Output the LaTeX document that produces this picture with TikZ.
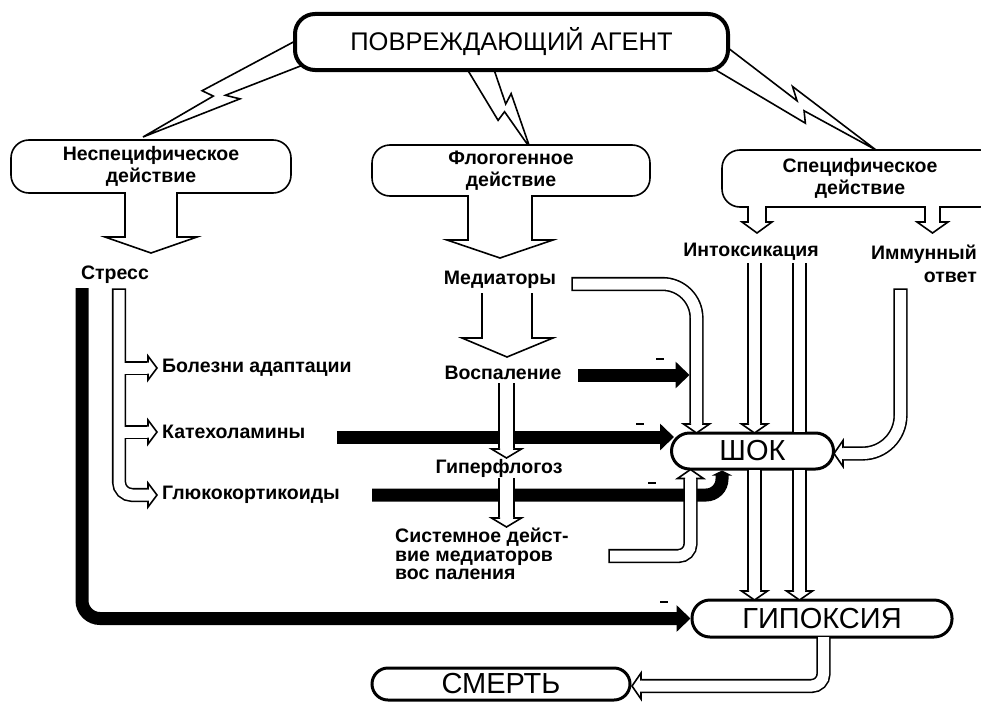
\documentclass[tikz,border=0pt]{standalone}
\usepackage{fontspec}
\setmainfont{Liberation Sans}
\usetikzlibrary{calc,arrows.meta}

\tikzset{
 lbl/.style={font=\fontsize{19.5}{22}\selectfont\bfseries, align=center, inner sep=0pt},
 thinbox/.style={draw, line width=1.6pt, rounded corners=18pt, fill=white, inner sep=0pt, align=center, font=\fontsize{19.5}{22}\selectfont\bfseries},
 fatbox/.style={draw, line width=3pt, rounded corners=18pt, fill=white, inner sep=0pt, font=\fontsize{29}{32}\selectfont},
 blockarr/.style={fill=white, draw, line width=1.6pt, line join=miter},
 chanblack/.style={line width=14.2pt},
 chanwhite/.style={white, line width=11pt},
 widechanblack/.style={line width=16.2pt},
 widechanwhite/.style={white, line width=13pt},
 blackbar/.style={line width=13pt, -{Triangle[length=14pt,width=26pt]}},
 boltshape/.style={fill=white, draw, line width=1.6pt, line join=miter},
 minussign/.style={fill=black, inner sep=0pt, minimum width=8pt, minimum height=2.6pt},
}

\newcommand\mybolt[2]{%
 \path[boltshape] ($(#1)!13pt!90:(#2)$) -- ($(#1)!0.5!(#2)!2pt!90:(#2)$) -- ($(#1)!0.44!(#2)!12pt!90:(#2)$) -- (#2) -- ($(#1)!0.56!(#2)!-3pt!90:(#2)$) -- ($(#1)!0.6!(#2)!-13pt!90:(#2)$) -- ($(#1)!-13pt!90:(#2)$) -- cycle;}

\newcommand\hollowhead[6]{%
 \begin{scope}[shift={(#1,#2)}, rotate=#3]
 \filldraw[fill=white, line width=1.6pt, line join=miter] (-#6-0.6,#4) -- (-#6,#4) -- (-#6,#5) -- (0,0) -- (-#6,-#5) -- (-#6,-#4) -- (-#6-0.6,-#4);
 \end{scope}}

\begin{document}
\begin{tikzpicture}[x=1pt,y=-1pt]
\useasboundingbox (0,0) rectangle (981,701);

% lightning bolts
\coordinate (bA1) at (306,50); \coordinate (bB1) at (143,137);
\coordinate (bA2) at (478,62); \coordinate (bB2) at (530,148);
\coordinate (bA3) at (716,55); \coordinate (bB3) at (876,150);
\mybolt{bA1}{bB1}
\mybolt{bA2}{bB2}
\mybolt{bA3}{bB3}

% boxes
\node[draw, line width=4pt, rounded corners=20pt, fill=white, minimum width=433pt, minimum height=56pt, inner sep=0pt, font=\fontsize{25.5}{28}\selectfont] (agent) at (511.5,42) {ПОВРЕЖДАЮЩИЙ АГЕНТ};
\node[thinbox, minimum width=280pt, minimum height=53pt] (nonspec) at (151,166.5) {Неспецифическое\\действие};
\node[thinbox, minimum width=278pt, minimum height=51pt] (phlog) at (511,170.5) {Флогогенное\\действие};
\node[thinbox, minimum width=276pt, minimum height=57pt] (spec) at (860,178.5) {Специфическое\\действие};

% block arrows out of boxes
\path[blockarr] (125,192.2) -- (125,237) -- (105,237) -- (151,253) -- (197,237) -- (177,237) -- (177,192.2);
\path[blockarr] (468,195.2) -- (468,240) -- (447,240) -- (500,258) -- (553,240) -- (532,240) -- (532,195.2);
\path[blockarr] (748,206.2) -- (748,222) -- (742,222) -- (757,233) -- (772,222) -- (766,222) -- (766,206.2);
\path[blockarr] (925,206.2) -- (925,222) -- (917,222) -- (932.5,233) -- (948,222) -- (940,222) -- (940,206.2);

% labels
\node[lbl] (stress) at (115,275) {Стресс};
\node[lbl] (mediat) at (500,280) {Медиаторы};
\node[lbl] (inflam) at (503,373) {Воспаление};
\node[lbl] (hyper) at (499,468) {Гиперфлогоз};
\node[lbl, anchor=west] (adapt) at (162,368) {Болезни адаптации};
\node[lbl, anchor=west] (catech) at (162,432) {Катехоламины};
\node[lbl, anchor=west] (gluco) at (162,495) {Глюкокортикоиды};
\node[lbl, align=left, anchor=north west, font=\fontsize{19.5}{18.5}\selectfont\bfseries] (system) at (395,528) {Системное дейст-\\вие медиаторов\\вос паления};
\node[lbl] (intox) at (751,252) {Интоксикация};
\node[lbl, align=right, anchor=north east, font=\fontsize{19.5}{23}\selectfont\bfseries] (immune) at (977,245) {Иммунный\\ответ};

% mediators -> inflammation block arrow
\path[blockarr] (482,293) -- (482,338) -- (462,338) -- (507,357) -- (553,338) -- (532,338) -- (532,293);

% result boxes
\node[fatbox, minimum width=162pt, minimum height=36pt] (shock) at (752.5,451) {ШОК};
\node[fatbox, minimum width=260pt, minimum height=37pt] (hypox) at (822,618.5) {ГИПОКСИЯ};
\node[fatbox, rounded corners=16pt, minimum width=258pt, minimum height=32pt] (death) at (501,684) {СМЕРТЬ};

% black (negative) arrows
\draw[blackbar, rounded corners=18pt] (82,288) -- (82,618.5) -- (hypox.west);
\draw[blackbar] (337,437) -- (674,437);
\draw[blackbar] (578,375) -- (689.5,375);
\draw[line width=13pt, rounded corners=16pt, -{Triangle[length=5pt,width=20pt]}] (372,495) -- (722,495) -- (722,470.5);
\node[minussign] (m1) at (660,359) {};
\node[minussign] (m2) at (640,424) {};
\node[minussign] (m3) at (652,483) {};
\node[minussign] (m4) at (664,602) {};

% stress channel tree
\draw[chanblack, rounded corners=13pt] (119,288.4) -- (119,495) -- (148,495);
\draw[chanblack] (119,368) -- (148,368) (119,432) -- (148,432);
\draw[chanwhite, rounded corners=13pt] (119,290) -- (119,495) -- (148,495);
\draw[chanwhite] (119,368) -- (148,368) (119,432) -- (148,432);
\hollowhead{157}{368}{0}{6.3}{12}{9}
\hollowhead{157}{432}{0}{6.3}{12}{9}
\hollowhead{157}{495}{0}{6.3}{12}{9}

% inflammation -> hyperphlogosis -> systemic
\draw[widechanblack] (506.5,383) -- (506.5,449);
\draw[widechanwhite] (506.5,383) -- (506.5,449);
\hollowhead{506.5}{458}{-90}{7.3}{15}{9}
\draw[widechanblack] (506.5,478) -- (506.5,518);
\draw[widechanwhite] (506.5,478) -- (506.5,518);
\hollowhead{506.5}{527}{-90}{7.3}{15}{9}

% mediators -> shock
\draw[chanblack, rounded corners=34pt] (571.4,284) -- (696.5,284) -- (696.5,424);
\draw[chanwhite, rounded corners=34pt] (573,284) -- (696.5,284) -- (696.5,424);
\hollowhead{696.5}{433}{-90}{6.3}{13}{9}

% systemic -> shock
\draw[chanblack, rounded corners=12pt] (608.4,556) -- (690.5,556) -- (690.5,478.5);
\draw[chanwhite, rounded corners=12pt] (610,556) -- (690.5,556) -- (690.5,478.5);
\hollowhead{690.5}{469.5}{90}{6.3}{13}{9}

% intoxication channels
\draw[chanblack] (754.5,263) -- (754.5,424) (799.5,263) -- (799.5,432);
\draw[chanwhite] (754.5,263) -- (754.5,424) (799.5,263) -- (799.5,432);
\hollowhead{754.5}{433}{-90}{6.3}{13}{9}
\draw[chanblack] (754.5,470) -- (754.5,591) (799.5,470) -- (799.5,591);
\draw[chanwhite] (754.5,470) -- (754.5,591) (799.5,470) -- (799.5,591);
\hollowhead{754.5}{600}{-90}{6.3}{13}{9}
\hollowhead{799.5}{600}{-90}{6.3}{13}{9}

% immune -> shock
\draw[chanblack, rounded corners=38pt] (900.5,288.4) -- (900.5,453.5) -- (843,453.5);
\draw[chanwhite, rounded corners=38pt] (900.5,290) -- (900.5,453.5) -- (843,453.5);
\hollowhead{834}{453.5}{180}{6.3}{13}{9}

% hypoxia -> death
\draw[chanblack, rounded corners=12pt] (823.5,637) -- (823.5,686) -- (641,686);
\draw[chanwhite, rounded corners=12pt] (823.5,637) -- (823.5,686) -- (641,686);
\hollowhead{632}{686}{180}{6.3}{13}{9}
\end{tikzpicture}
\end{document}
